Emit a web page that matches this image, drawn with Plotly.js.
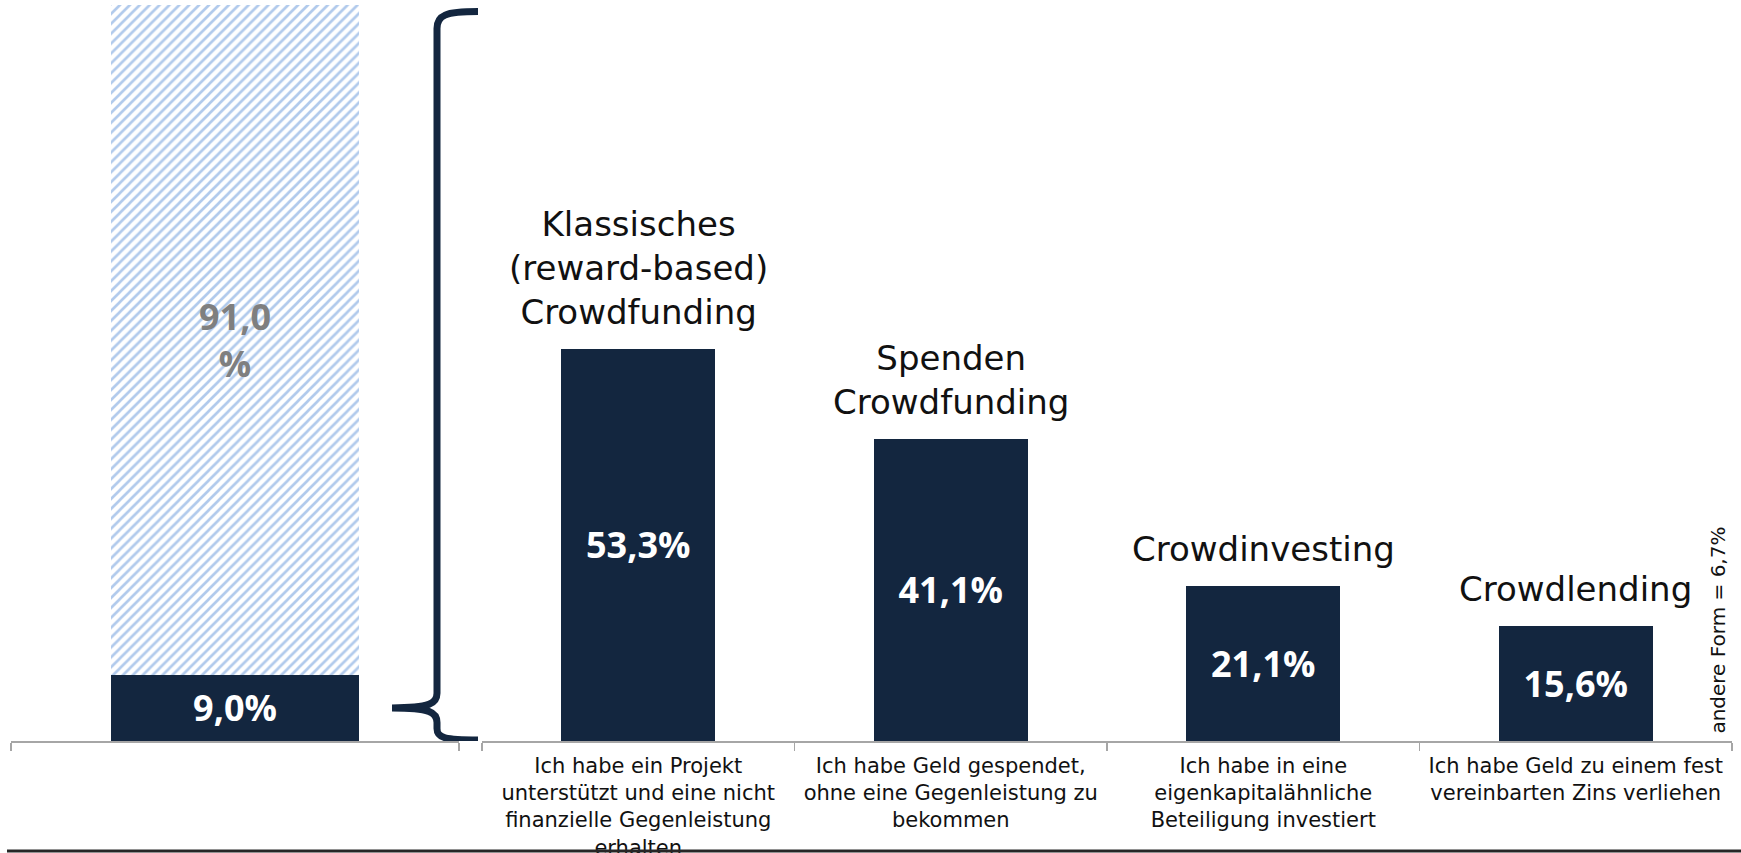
<!DOCTYPE html>
<html>
<head>
<meta charset="utf-8">
<script src="https://cdn.plot.ly/plotly-3.0.1.min.js"></script>
<style>html,body{margin:0;padding:0;background:#fff;}#chart{width:1741px;height:853px;}</style>
</head>
<body>
<div id="chart"></div>
<script>
// ---- data ----
const leftCategories = ['Teilnahme'];
const leftUsed = [9.0];
const leftNotUsed = [91.0];

const categories = [
  'Ich habe ein Projekt<br>unterstützt und eine nicht<br>finanzielle Gegenleistung<br>erhalten',
  'Ich habe Geld gespendet,<br>ohne eine Gegenleistung zu<br>bekommen',
  'Ich habe in eine<br>eigenkapitalähnliche<br>Beteiligung investiert',
  'Ich habe Geld zu einem fest<br>vereinbarten Zins verliehen'
];
const values = [53.3, 41.1, 21.1, 15.6];
const typeLabels = [
  'Klassisches<br>(reward-based)<br>Crowdfunding',
  'Spenden<br>Crowdfunding',
  'Crowdinvesting',
  'Crowdlending'
];
const otherFormValue = 6.7;

// ---- style ----
const NAVY = '#13263f';
const NUMFONT = 'Open Sans, Lato, sans-serif';
const FONT = 'DejaVu Sans, Open Sans, sans-serif';
const fmt = v => v.toFixed(1).replace('.', ',') + '%';

const traces = [
  {
    type: 'bar', x: leftCategories, y: leftUsed, xaxis: 'x', yaxis: 'y',
    width: 0.554, marker: {color: NAVY},
    text: leftUsed.map(fmt), textposition: 'inside', insidetextanchor: 'middle',
    textfont: {family: NUMFONT, size: 36, color: '#ffffff', weight: 'bold'},
    hoverinfo: 'skip', showlegend: false
  },
  {
    type: 'bar', x: leftCategories, y: leftNotUsed, xaxis: 'x', yaxis: 'y',
    width: 0.554,
    marker: {color: '#ffffff', pattern: {shape: '/', fgcolor: '#b1caec', bgcolor: '#ffffff', size: 7, solidity: 0.38}},
    text: leftNotUsed.map(v => v.toFixed(1).replace('.', ',') + '<br>%'),
    textposition: 'inside', insidetextanchor: 'middle',
    textfont: {family: NUMFONT, size: 36, color: '#7f7f7f', weight: 'bold'},
    hoverinfo: 'skip', showlegend: false
  },
  {
    type: 'bar', x: categories, y: values, xaxis: 'x2', yaxis: 'y',
    width: 0.493, marker: {color: NAVY},
    text: values.map(fmt), textposition: 'inside', insidetextanchor: 'middle',
    textfont: {family: NUMFONT, size: 36, color: '#ffffff', weight: 'bold'},
    hoverinfo: 'skip', showlegend: false
  }
];

const W = 1741;
const px = p => p / W;

const annotations = typeLabels.map((t, i) => ({
  x: categories[i], y: values[i], xref: 'x2', yref: 'y',
  text: t, showarrow: false, yanchor: 'bottom', yshift: 15,
  font: {family: FONT, size: 34, color: '#111111'}
}));
annotations.push({
  x: px(1732), y: 15, xref: 'paper', yref: 'y',
  text: 'andere Form = ' + fmt(otherFormValue), textangle: -90,
  showarrow: false, font: {family: FONT, size: 20, color: '#111111'}
});

// curly brace spanning the full left column (0..100), tip at the middle of the 9 % segment
const braceTip = leftUsed[0] / 2;
const bx = px(437), bxr = px(478), bxt = px(392), bxc = px(445), bxk = px(430);
const bracePath =
  `M ${bxr},99.1 C ${bxc},99.1 ${bx},98.6 ${bx},96.8 ` +
  `L ${bx},${braceTip + 2.0} C ${bx},${braceTip + 0.6} ${bxk},${braceTip} ${bxt},${braceTip} ` +
  `C ${bxk},${braceTip} ${bx},${braceTip - 0.6} ${bx},${braceTip - 2.0} ` +
  `L ${bx},1.7 C ${bx},0.4 ${bxc},0.15 ${bxr},0.15`;

const axisCommon = {
  showgrid: false, zeroline: false, showline: true, linecolor: '#a6a6a6', linewidth: 1.5,
  ticks: 'outside', tickson: 'boundaries', ticklen: 8, tickcolor: '#a6a6a6', tickwidth: 1.5,
  fixedrange: true, type: 'category', automargin: false
};

const layout = {
  width: 1741, height: 853,
  margin: {l: 0, r: 0, t: 5, b: 112},
  paper_bgcolor: '#ffffff', plot_bgcolor: '#ffffff',
  barmode: 'stack',
  showlegend: false,
  font: {family: FONT, color: '#111111'},
  xaxis: Object.assign({}, axisCommon, {domain: [px(11), px(459)], anchor: 'y', showticklabels: false}),
  xaxis2: Object.assign({}, axisCommon, {domain: [px(482), px(1732)], anchor: 'y',
    ticklabelstandoff: 5,
    tickfont: {family: FONT, size: 21, color: '#111111'}}),
  yaxis: {range: [0, 100], visible: false, fixedrange: true},
  shapes: [
    {type: 'path', xref: 'paper', yref: 'y', path: bracePath,
     line: {color: NAVY, width: 7}, fillcolor: 'rgba(0,0,0,0)'},
    {type: 'line', xref: 'paper', yref: 'paper', x0: px(7), x1: 1, y0: -0.1495, y1: -0.1495,
     line: {color: '#262626', width: 3}}
  ],
  annotations: annotations
};

Plotly.newPlot('chart', traces, layout, {displayModeBar: false, staticPlot: true});
</script>
</body>
</html>
